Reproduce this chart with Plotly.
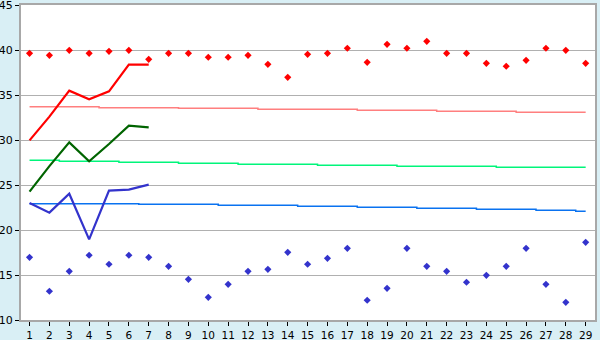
import plotly.graph_objects as go

days = list(range(1, 30))
max_dots = [39.63, 39.41, 39.96, 39.63, 39.85, 39.96, 38.96, 39.63, 39.63, 39.19,
            39.19, 39.41, 38.41, 36.96, 39.52, 39.63, 40.19, 38.63, 40.63, 40.19,
            40.96, 39.63, 39.63, 38.52, 38.19, 38.85, 40.19, 39.96, 38.52]
min_dots = [16.96, 13.19, 15.41, 17.19, 16.19, 17.19, 16.96, 15.96, 14.52, 12.52,
            13.96, 15.41, 15.63, 17.52, 16.19, 16.85, 17.96, 12.19, 13.52, 17.96,
            15.96, 15.41, 14.19, 14.96, 15.96, 17.96, 13.96, 11.96, 18.63]
line_days = [1, 2, 3, 4, 5, 6, 7]
red_line = [29.96, 32.6, 35.48, 34.52, 35.41, 38.37, 38.37]
green_line = [24.26, 27.1, 29.74, 27.63, 29.55, 31.59, 31.41]
blue_line = [23.0, 21.93, 24.03, 18.96, 24.37, 24.48, 25.04]
pink_trend = [33.7]*4 + [33.59]*4 + [33.52]*4 + [33.41]*5 + [33.3]*4 + [33.19]*4 + [33.07]*4
green_trend = [27.74]*2 + [27.63]*3 + [27.52]*3 + [27.41]*3 + [27.3]*4 + [27.19]*4 + [27.08]*5 + [26.97]*5
blue_trend = [22.93]*6 + [22.85]*4 + [22.74]*4 + [22.63]*3 + [22.52]*3 + [22.41]*3 + [22.3]*3 + [22.19]*2 + [22.08]
x_ticks = list(range(1, 30))
y_ticks = [10, 15, 20, 25, 30, 35, 40, 45]

fig = go.Figure()
for vals, col in [(pink_trend, "#FF7F7F"), (green_trend, "#00F57A"), (blue_trend, "#0A72F0")]:
    fig.add_trace(go.Scatter(x=days, y=vals, mode="lines", line=dict(color=col, width=1.5, shape="hvh"),
                             hoverinfo="skip"))
for vals, col in [(red_line, "#FF0000"), (green_line, "#006400"), (blue_line, "#3333CC")]:
    fig.add_trace(go.Scatter(x=line_days, y=vals, mode="lines", line=dict(color=col, width=2.2)))
fig.add_trace(go.Scatter(x=days, y=max_dots, mode="markers",
                         marker=dict(symbol="diamond", size=5.5, color="#FF0000")))
fig.add_trace(go.Scatter(x=days, y=min_dots, mode="markers",
                         marker=dict(symbol="diamond", size=5.5, color="#3333CC")))

fig.update_layout(
    width=600, height=340,
    margin=dict(l=21, r=5, t=5, b=20, autoexpand=False),
    paper_bgcolor="#D9EFF5", plot_bgcolor="#FFFFFF",
    showlegend=False,
    font=dict(family="DejaVu Sans", size=11, color="#000000"),
)
fig.update_xaxes(range=[0.57, 29.47], tickvals=x_ticks, ticks="outside", ticklen=4, tickcolor="#000000",
                 showgrid=False, zeroline=False, showline=True, linecolor="#A8A8A8", linewidth=2,
                 mirror=True, tickfont=dict(size=10.5), automargin=False, ticklabeloverflow="allow")
fig.update_yaxes(range=[10, 45], tickvals=y_ticks, ticks="outside", ticklen=4, tickcolor="#000000",
                 showgrid=True, gridcolor="#B0B0B0", gridwidth=1, zeroline=False,
                 showline=True, linecolor="#A8A8A8", linewidth=2, mirror=True, tickfont=dict(size=11),
                 automargin=False, ticklabeloverflow="allow")
fig.write_html("out.html")
